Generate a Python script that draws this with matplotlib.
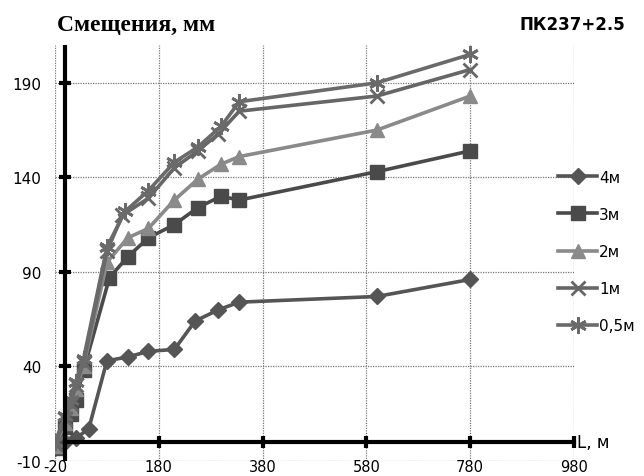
# %% ==========================================================================
# Data
# =============================================================================
import matplotlib.pyplot as plt
import numpy as np

L_4m = [-20, 0, 20, 45, 80, 120, 160, 210, 250, 295, 335, 600, 780]
d_4m = [-3, 0, 2, 7, 43, 45, 48, 49, 64, 70, 74, 77, 86]

L_3m = [-20, 0, 10, 20, 35, 85, 120, 160, 210, 255, 300, 335, 600, 780]
d_3m = [-3, 8, 15, 22, 38, 87, 98, 108, 115, 124, 130, 128, 143, 154]

L_2m = [-20, 0, 10, 20, 35, 80, 120, 160, 210, 255, 300, 335, 600, 780]
d_2m = [-2, 10, 18, 28, 40, 95, 108, 113, 128, 139, 147, 151, 165, 183]

L_1m = [-20, 0, 10, 20, 35, 80, 110, 160, 210, 255, 295, 335, 600, 780]
d_1m = [-1, 12, 20, 30, 42, 101, 120, 129, 145, 154, 163, 175, 183, 197]

L_05m = [-20, 0, 10, 20, 35, 80, 115, 160, 210, 255, 300, 335, 600, 780]
d_05m = [0, 14, 22, 32, 44, 103, 122, 133, 148, 156, 167, 180, 190, 205]

x_ticks = [-20, 180, 380, 580, 780, 980]
y_ticks = [-10, 40, 90, 140, 190]

# %% ==========================================================================
# Plot
# =============================================================================
plt.rcParams["axes.unicode_minus"] = False

fig = plt.figure(figsize=(6.44, 4.77), dpi=100)
ax = fig.add_axes([55/644, 15/477, 519/644, 416/477])

series = [
    (L_4m, d_4m, "4м", "D", "#555555", 8),
    (L_3m, d_3m, "3м", "s", "#4a4a4a", 10),
    (L_2m, d_2m, "2м", "^", "#8a8a8a", 10),
    (L_1m, d_1m, "1м", "x", "#666666", 10),
    (L_05m, d_05m, "0,5м", (6, 2, 0), "#6a6a6a", 12),
]
for xs, ys, lab, mk, col, ms in series:
    ax.plot(xs, ys, color=col, lw=2.6, marker=mk, ms=ms, mec=col, mfc=col,
            mew=2 if mk in ("x", (6, 2, 0)) else 1, label=lab, zorder=3)

ax.set_xlim(-20, 980)
ax.set_ylim(-10, 210)
ax.set_xticks(x_ticks)
ax.set_yticks(y_ticks)
ax.grid(True, color="#777777", linestyle=(0, (1, 1)), lw=0.9)
for s in ax.spines.values():
    s.set_visible(False)
ax.tick_params(length=0, labelsize=11)
ax.tick_params(axis="x", pad=-1.5, labelsize=10.5)
ax.tick_params(axis="y", pad=10)

# thick axes through zero
ax.axvline(0, color="black", lw=3, zorder=4)
ax.plot([0, 980], [0, 0], color="black", lw=3, zorder=4, clip_on=False)
ax.plot(np.zeros(len(y_ticks[1:])), y_ticks[1:], ls="none", marker="_",
        ms=8, mew=3, color="black", zorder=4)
ax.plot(x_ticks[1:], np.zeros(len(x_ticks[1:])), ls="none", marker="|",
        ms=8, mew=3, color="black", zorder=4, clip_on=False)

ax.text(985, 0, "L, м", fontsize=12, va="center", ha="left", clip_on=False)

fig.text(57/644, 1 - 25/477, "Смещения, мм", family="Liberation Serif",
         fontsize=17, fontweight="bold", va="center", ha="left")
fig.text(625/644, 1 - 25/477, "ПК237+2.5", fontsize=12, fontweight="bold",
         va="center", ha="right")

fig.legend(loc="upper left", bbox_to_anchor=(550/644, 1 - 163/477),
           frameon=False, fontsize=11, handlelength=2.6, handletextpad=0.1,
           labelspacing=1.45, borderpad=0)

fig.savefig("out.png", dpi=100)
